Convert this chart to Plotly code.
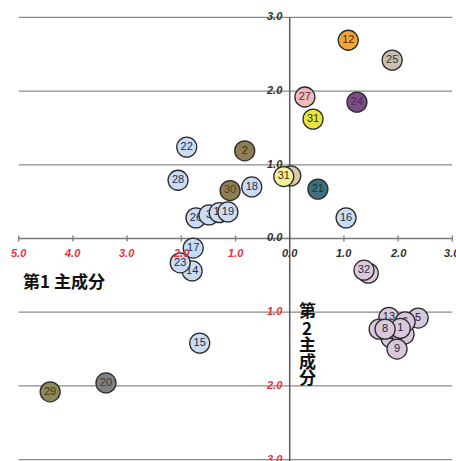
import plotly.graph_objects as go

# Principal component scores (PC1, PC2) for each numbered sample
labels = ["12", "25", "27", "24", "31", "22", "2", "28", "", "31", "21", "30", "18",
          "26", "3", "11", "19", "16", "17", "14", "23", "10", "32", "15", "20", "29",
          "13", "5", "7", "4", "6", "1", "3", "8", "9"]
pc1 = [1.08, 1.89, 0.28, 1.24, 0.43, -1.90, -0.83, -2.06, 0.02, -0.11, 0.52, -1.10, -0.70,
       -1.73, -1.49, -1.30, -1.14, 1.04, -1.78, -1.80, -2.02, 1.45, 1.37, -1.66, -3.39, -4.42,
       1.83, 2.37, 2.11, 1.87, 2.13, 2.04, 1.65, 1.76, 1.98]
pc2 = [2.69, 2.42, 1.92, 1.85, 1.62, 1.24, 1.19, 0.79, 0.85, 0.84, 0.67, 0.65, 0.70,
       0.28, 0.32, 0.35, 0.36, 0.28, -0.13, -0.44, -0.33, -0.47, -0.43, -1.42, -1.96, -2.08,
       -1.07, -1.08, -1.30, -1.35, -1.13, -1.22, -1.23, -1.23, -1.50]

BLUE = "#C9DCF1"
LAV = "#D7C8DB"
fills = ["#F2A33A", "#C9C1AF", "#ECBABD", "#7C4D85", "#E8E63C", BLUE, "#8D7E56", BLUE,
         "#D9C9A8", "#F4F09C", "#3E6F7D", "#8D7E56", BLUE,
         BLUE, BLUE, BLUE, BLUE, BLUE, BLUE, BLUE, BLUE, "#DCC8D8", "#DCC8D8", BLUE,
         "#808080", "#8F8756",
         LAV, LAV, LAV, LAV, LAV, LAV, LAV, LAV, LAV]
text_colors = ["#4a2a10", "#333333", "#6a2a30", "#4d2a5a", "#333300", "#1c2b4a", "#3a3020",
               "#1c2b4a", "#333333", "#333300", "#183640", "#4e3f22", "#1c2b4a"] + \
              ["#1c2b4a"] * 10 + ["#1c2b4a", "#3a3a3a", "#3a3820"] + ["#2a2030"] * 9

x_ticks = [-5, -4, -3, -2, -1, 0, 1, 2, 3]
y_ticks = [3, 2, 1, 0, -1, -2, -3]
RED = "#E5323C"
DARK = "#2f2f2f"

fig = go.Figure()

# one trace per sample so later circles cover earlier ones together with their numbers
for lab, x, y, fc, tc in zip(labels, pc1, pc2, fills, text_colors):
    fig.add_trace(go.Scatter(
        x=[x], y=[y], mode="markers+text", text=[lab], textposition="middle center",
        marker=dict(size=20, color=fc, line=dict(color="#2a2a2a", width=1.3)),
        textfont=dict(family="Liberation Sans, Arial, sans-serif", size=11, color=tc),
        showlegend=False, hoverinfo="skip", cliponaxis=False))

shapes = []
# horizontal guide lines at each integer of PC2
for yv in y_ticks:
    if yv == 0:
        continue
    shapes.append(dict(type="line", xref="x", yref="y", x0=x_ticks[0], x1=x_ticks[-1],
                       y0=yv, y1=yv, line=dict(color="#8a8a8a", width=1.2), layer="below"))
# PC1 axis with tick marks
shapes.append(dict(type="line", xref="x", yref="y", x0=x_ticks[0], x1=x_ticks[-1],
                   y0=0, y1=0, line=dict(color="#7a7a7a", width=1.5), layer="below"))
for xv in x_ticks:
    shapes.append(dict(type="line", xref="x", yref="y", x0=xv, x1=xv, ysizemode="pixel",
                       yanchor=0, y0=-3, y1=3, line=dict(color="#7a7a7a", width=1.3),
                       layer="below"))
# PC2 axis
shapes.append(dict(type="line", xref="x", yref="y", x0=0, x1=0, y0=y_ticks[0], y1=-3.1,
                   line=dict(color="#5a5a5a", width=1.5), layer="below"))

tick_font = dict(family="Liberation Sans, Arial, sans-serif", size=11, weight="bold",
                 style="italic")
annotations = []
for xv in x_ticks:
    annotations.append(dict(x=xv, y=0, xref="x", yref="y", text=f"{abs(xv):.1f}",
                            showarrow=False, xanchor="center", yanchor="top", yshift=-6,
                            font=dict(tick_font, color=RED if xv < 0 else DARK)))
for yv in y_ticks:
    annotations.append(dict(x=0, y=yv, xref="x", yref="y", text=f"{abs(yv):.1f}",
                            showarrow=False, xanchor="right", yanchor="middle", xshift=-5,
                            yshift=2 if yv == 0 else 1,
                            font=dict(tick_font, color=RED if yv < 0 else DARK)))

title_font = dict(family="Noto Sans CJK JP", size=17, color="#111111", weight="bold")
W, H = 456, 461
annotations.append(dict(x=64 / W, y=1 - 280 / H, xref="paper", yref="paper",
                        text="第1 主成分", showarrow=False, font=title_font,
                        xanchor="center", yanchor="middle"))
for ch, py in zip("第2主成分", [309, 327, 343, 360, 376]):
    annotations.append(dict(x=307 / W, y=1 - py / H, xref="paper", yref="paper",
                            text=ch, showarrow=False, font=title_font,
                            xanchor="center", yanchor="middle"))

fig.update_layout(
    width=W, height=H, margin=dict(l=0, r=0, t=0, b=0),
    paper_bgcolor="white", plot_bgcolor="white",
    xaxis=dict(range=[-5.345, 3.068], showgrid=False, zeroline=False,
               showticklabels=False, showline=False, fixedrange=True),
    yaxis=dict(range=[-3.019, 3.236], showgrid=False, zeroline=False,
               showticklabels=False, showline=False, fixedrange=True),
    shapes=shapes, annotations=annotations,
)

fig.write_html("out.html")
